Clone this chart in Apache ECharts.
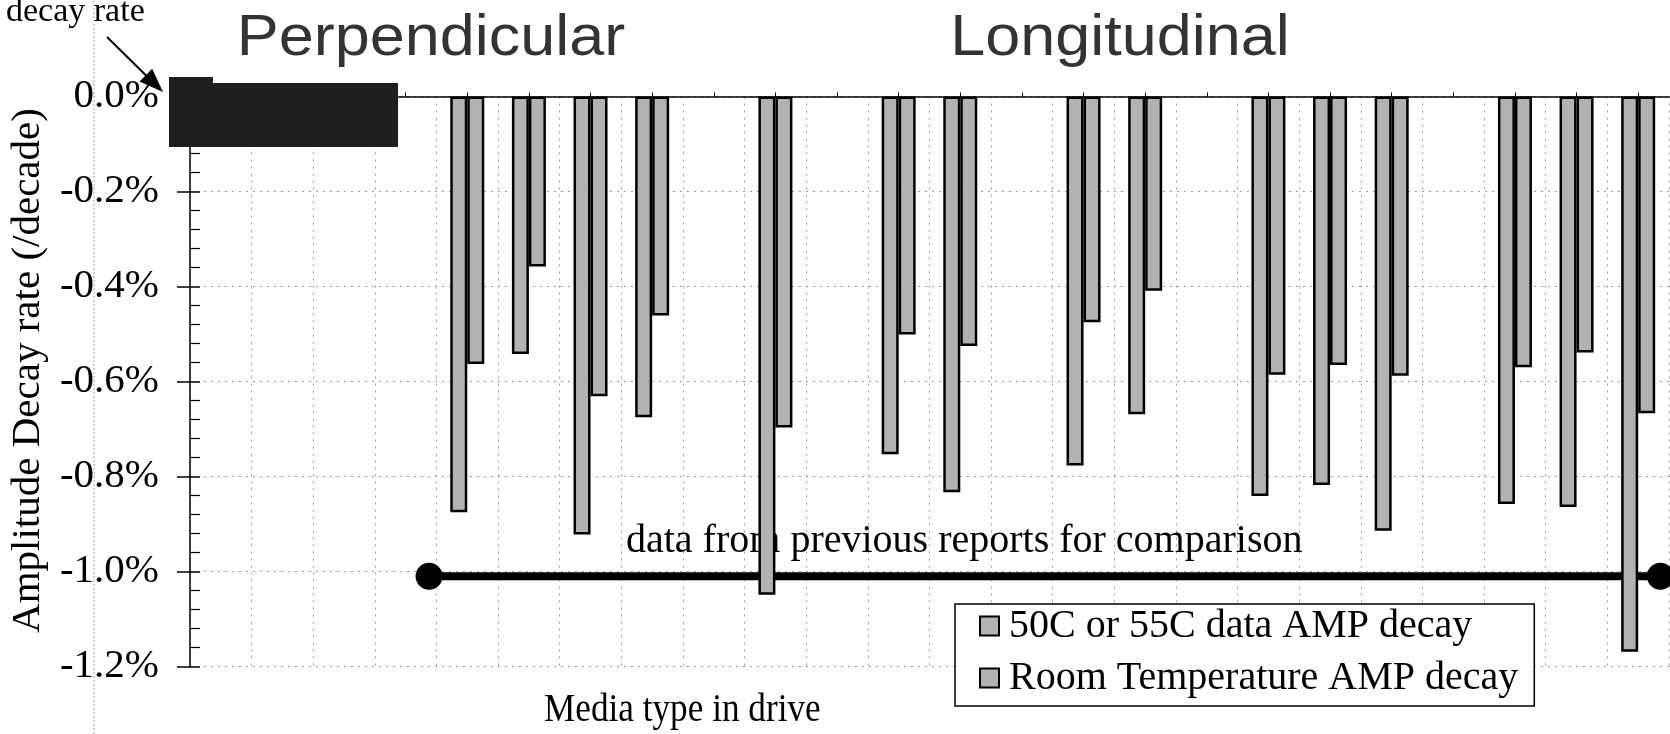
<!DOCTYPE html>
<html>
<head>
<meta charset="utf-8">
<script src="https://cdn.jsdelivr.net/npm/echarts@6/dist/echarts.min.js"></script>
<style>
  html, body { margin: 0; padding: 0; background: #fff; }
  #chart { width: 1670px; height: 734px; }
</style>
</head>
<body>
<div id="chart"></div>
<script>
// ---- data ----
const categories = ['1','2','3','4','5','6','7','8','9','10','11','12',
                    '13','14','15','16','17','18','19','20','21','22','23','24'];
const hotDecay  = [null, null, null, null, -0.875, -0.542, -0.922, -0.675, null, -1.049, null, -0.753,
                   -0.833, null, -0.777, -0.669, null, -0.841, -0.818, -0.914, null, -0.858, -0.864, -1.169];
const roomDecay = [null, null, null, null, -0.563, -0.358, -0.631, -0.461, null, -0.697, null, -0.501,
                   -0.525, null, -0.475, -0.409, null, -0.586, -0.565, -0.588, null, -0.570, -0.539, -0.667];
const seriesNames = ['50C or 55C data AMP decay', 'Room Temperature AMP decay'];
const yMin = -1.2, yMax = 0, yStep = 0.2;
const comparisonX = [3.88, 23.86];
const comparisonLevel = -1.01;
const groupTitles = ['Perpendicular', 'Longitudinal'];
const yName = 'Amplitude Decay rate (/decade)';
const xName = 'Media type in drive';
const comparisonText = 'data from previous reports for comparison';
const cornerText = 'decay rate';

// ---- chart ----
const serif = '"Liberation Serif", "Times New Roman", serif';
const sans = '"Liberation Sans", Arial, sans-serif';
const chart = echarts.init(document.getElementById('chart'), null, { renderer: 'canvas' });

const barStyle = { color: '#b2b2b2', borderColor: '#000', borderWidth: 2.5 };
const gridStyle = { color: '#9a9a9a', type: [2, 5], width: 1 };

// arrow geometry for the "decay rate" pointer
const aStart = [107, 37], aTip = [163, 92];
const dx = aTip[0] - aStart[0], dy = aTip[1] - aStart[1];
const L = Math.sqrt(dx * dx + dy * dy);
const ux = dx / L, uy = dy / L, px = -uy, py = ux;
const headLen = 24, headHalf = 9;
const bx = aTip[0] - ux * headLen, by = aTip[1] - uy * headLen;

const option = {
  animation: false,
  backgroundColor: '#fff',
  grid: { left: 183, right: 1, top: 96.5, bottom: 67.5, containLabel: false },
  legend: {
    data: seriesNames,
    orient: 'vertical',
    left: 955, top: 604,
    itemWidth: 19, itemHeight: 19, itemGap: 12,
    padding: [2, 16, 8, 24],
    borderColor: '#000', borderWidth: 1.5,
    backgroundColor: '#fff',
    icon: 'rect',
    itemStyle: { borderWidth: 2 },
    textStyle: { fontFamily: serif, fontSize: 40, color: '#000', padding: [0, 0, 0, 5] }
  },
  xAxis: [
    {
      type: 'category', data: categories, position: 'top',
      axisLine: { onZero: false, lineStyle: { color: '#000', width: 1.5 } },
      axisTick: { show: true, alignWithLabel: true, length: 4, lineStyle: { color: '#000', width: 1 } },
      axisLabel: { show: false },
      splitLine: { show: true, interval: 0, lineStyle: gridStyle }
    },
    { type: 'value', min: 0, max: 24, show: false }
  ],
  yAxis: [
    {
      type: 'value', min: yMin, max: yMax, interval: yStep,
      axisLine: { show: true, lineStyle: { color: '#000', width: 1.5 } },
      axisTick: { show: true, length: 13, lineStyle: { color: '#000', width: 1.5 } },
      axisLabel: {
        margin: 31, color: '#000', fontFamily: serif, fontSize: 41,
        formatter: v => (Math.abs(v) < 1e-9 ? 0 : v).toFixed(1) + '%'
      },
      splitLine: { show: true, lineStyle: gridStyle },
      name: yName, nameLocation: 'middle', nameGap: 134,
      nameTextStyle: { fontFamily: serif, fontSize: 41, color: '#000', padding: [0, 0, 0, 22] }
    },
    {
      type: 'value', min: yMin, max: yMax, interval: yStep, position: 'left',
      axisLine: { show: false },
      axisTick: { show: true, inside: true, length: 10, lineStyle: { color: '#000', width: 1.5 } },
      minorTick: { show: true, splitNumber: 5, length: 10, lineStyle: { color: '#000', width: 1.2 } },
      axisLabel: { show: false },
      splitLine: { show: false }
    }
  ],
  series: [
    {
      name: seriesNames[0], type: 'bar', data: hotDecay,
      barWidth: 17, barGap: '0%', itemStyle: barStyle, z: 5
    },
    {
      name: seriesNames[1], type: 'bar', data: roomDecay,
      barWidth: 17, barGap: '0%', itemStyle: barStyle, z: 5
    },
    {
      name: 'comparison', type: 'line', xAxisIndex: 1, yAxisIndex: 0,
      data: comparisonX.map(x => [x, comparisonLevel]),
      symbol: 'circle', symbolSize: 27, showSymbol: true, clip: false,
      itemStyle: { color: '#000' },
      lineStyle: { color: '#000', width: 8 },
      z: 3, silent: true
    }
  ],
  graphic: [
    { type: 'line', shape: { x1: 94, y1: 0, x2: 94, y2: 734 },
      style: { stroke: '#a8a8a8', lineWidth: 1, lineDash: [2, 2] }, z: 0 },
    { type: 'text', x: 431, y: 39, scaleX: 1.085, z: 1,
      style: { text: groupTitles[0], font: '58px ' + sans, fill: '#333', textAlign: 'center', textVerticalAlign: 'middle' } },
    { type: 'text', x: 1120, y: 39, scaleX: 1.085, z: 1,
      style: { text: groupTitles[1], font: '58px ' + sans, fill: '#333', textAlign: 'center', textVerticalAlign: 'middle' } },
    { type: 'text', x: 6, y: 12, z: 1,
      style: { text: cornerText, font: '34px ' + serif, fill: '#000', textAlign: 'left', textVerticalAlign: 'middle' } },
    { type: 'text', x: 626, y: 541, z: 1,
      style: { text: comparisonText, font: '40px ' + serif, fill: '#000', textAlign: 'left', textVerticalAlign: 'middle' } },
    { type: 'text', x: 544, y: 710, scaleX: 0.88, z: 1,
      style: { text: xName, font: '40px ' + serif, fill: '#000', textAlign: 'left', textVerticalAlign: 'middle' } },
    { type: 'rect', shape: { x: 169, y: 83, width: 229, height: 64 }, style: { fill: '#1e1e1e' }, z: 100 },
    { type: 'rect', shape: { x: 169, y: 77, width: 44, height: 8 }, style: { fill: '#1e1e1e' }, z: 100 },
    { type: 'line', shape: { x1: aStart[0], y1: aStart[1], x2: bx, y2: by },
      style: { stroke: '#000', lineWidth: 2 }, z: 101 },
    { type: 'polygon', shape: { points: [aTip, [bx + px * headHalf, by + py * headHalf], [bx - px * headHalf, by - py * headHalf]] },
      style: { fill: '#000' }, z: 101 }
  ]
};
chart.setOption(option);
</script>
</body>
</html>
